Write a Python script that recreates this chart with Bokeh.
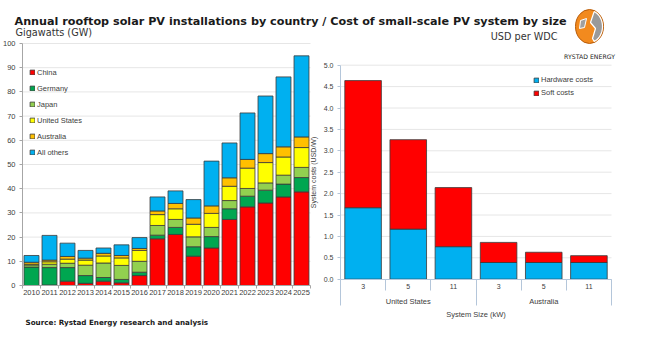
import numpy as np
from bokeh.plotting import figure
from bokeh.models import (Range1d, LinearAxis, FixedTicker, Label, Legend, LegendItem,
                          ColumnDataSource, PrintfTickFormatter)
from bokeh.embed import file_html
from bokeh.resources import INLINE

# ---------------- data ----------------
years = [str(y) for y in range(2010, 2026)]
china = [0.0, 0.2, 1.8, 0.9, 1.8, 1.1, 4.1, 19.3, 21.1, 12.1, 15.5, 27.3, 32.5, 34.1, 36.6, 38.7]
germany = [7.6, 7.2, 5.6, 3.2, 1.5, 1.4, 1.4, 1.5, 2.9, 3.9, 4.7, 4.4, 4.4, 5.3, 5.3, 5.9]
japan = [0.9, 1.4, 1.8, 4.3, 6.0, 5.8, 4.5, 4.0, 3.3, 4.1, 3.8, 3.4, 3.2, 3.0, 3.7, 4.2]
united_states = [0.3, 1.0, 1.7, 2.1, 2.9, 3.1, 4.5, 4.5, 4.4, 5.2, 5.8, 5.9, 8.4, 8.4, 7.5, 8.2]
australia = [0.8, 0.7, 1.1, 0.8, 1.1, 1.0, 0.8, 1.5, 2.2, 2.6, 3.1, 3.5, 3.6, 3.7, 4.2, 4.4]
all_others = [2.8, 10.2, 5.5, 3.2, 2.2, 4.4, 4.5, 5.8, 5.2, 7.6, 18.5, 14.4, 19.2, 23.8, 28.9, 33.5]
country_names = ["China", "Germany", "Japan", "United States", "Australia", "All others"]
country_colors = ["#ff0000", "#00a650", "#92d050", "#ffff00", "#ffc000", "#00b0f0"]
gw_ticks = list(range(0, 101, 10))

size_labels = ["3", "5", "11", "3", "5", "11"]
size_groups = ["United States", "Australia"]
hardware = [1.67, 1.17, 0.76, 0.39, 0.39, 0.39]
soft = [2.97, 2.09, 1.38, 0.47, 0.24, 0.16]
cost_names = ["Hardware costs", "Soft costs"]
cost_colors = ["#00b0f0", "#ff0000"]
cost_ticks = [i * 0.5 for i in range(11)]

FONT = "Liberation Sans"
TXT = "#404040"
AX_L = "#a6a6a6"
AX_R = "#b4c6da"
GRID = "#e6e6e6"
EDGE = "#3a3a3a"

W, H = 650, 343
p = figure(width=W, height=H, output_backend="svg", toolbar_location=None,
           x_range=Range1d(0, W), y_range=Range1d(H, 0),
           x_axis_type=None, y_axis_type=None, title=None, min_border=0)
p.outline_line_color = None
p.background_fill_color = "white"
p.border_fill_color = "white"

# left chart ranges: category -0.5 -> px 22, 18 px per category ; 0 GW -> px 285, 2.42 px/GW
lpx, lx0 = 18.0, 22.0
lpy, ly0 = 2.42, 285.0
lxs = -0.5 - lx0 / lpx
# right chart ranges
rpx, rx0 = 271.0 / 6, 340.0
rpy, ry0 = 42.8, 278.7
rxs = -0.5 - rx0 / rpx
p.extra_x_ranges = {"lx": Range1d(lxs, lxs + W / lpx), "rx": Range1d(rxs, rxs + W / rpx)}
p.extra_y_ranges = {"ly": Range1d(-(H - ly0) / lpy, ly0 / lpy), "ry": Range1d(-(H - ry0) / rpy, ry0 / rpy)}

# ---------- left chart ----------
nL = len(years)
p.segment(x0=-0.5, x1=nL - 0.5, y0=gw_ticks[1:], y1=gw_ticks[1:], color=GRID, line_width=1,
          x_range_name="lx", y_range_name="ly")
srcL = ColumnDataSource(dict(x=list(range(nL)), China=china, Germany=germany, Japan=japan,
                             US=united_states, Australia=australia, Others=all_others))
rL = p.vbar_stack(["China", "Germany", "Japan", "US", "Australia", "Others"], x="x", width=0.83,
                  color=country_colors, line_color=EDGE, line_width=0.8, source=srcL,
                  x_range_name="lx", y_range_name="ly")

yaxL = LinearAxis(x_range_name="lx", y_range_name="ly", fixed_location=-0.5, bounds=(0, 100),
                  ticker=FixedTicker(ticks=gw_ticks, minor_ticks=[]))
xaxL = LinearAxis(x_range_name="lx", y_range_name="ly", fixed_location=0, bounds=(-0.5, nL - 0.5),
                  ticker=FixedTicker(ticks=list(range(nL)), minor_ticks=[i - 0.5 for i in range(nL + 1)]),
                  major_label_overrides={i: years[i] for i in range(nL)})
for ax in (yaxL, xaxL):
    ax.axis_line_color = AX_L
    ax.major_tick_line_color = AX_L
    ax.minor_tick_line_color = AX_L
    ax.major_label_text_font = FONT
    ax.major_label_text_font_size = "7.5px"
    ax.major_label_text_color = TXT
    ax.major_tick_in = 0
    ax.minor_tick_in = 0
yaxL.major_tick_out = 3
yaxL.minor_tick_out = 0
yaxL.major_label_standoff = 4
xaxL.major_tick_out = 0
xaxL.minor_tick_out = 3
xaxL.major_label_standoff = 1
p.add_layout(yaxL, "left")
p.add_layout(xaxL, "below")

legL = Legend(items=[LegendItem(label=country_names[i], renderers=[rL[i]]) for i in range(6)],
              location=(29, 186), orientation="vertical", padding=0, margin=0,
              glyph_width=6, glyph_height=6, label_height=10, spacing=6, label_standoff=2,
              label_text_font=FONT, label_text_font_size="7.5px", label_text_color=TXT,
              border_line_color=None, background_fill_alpha=0)
p.add_layout(legL, "center")

# ---------- right chart ----------
nR = len(size_labels)
p.segment(x0=-0.5, x1=nR - 0.5, y0=cost_ticks[1:], y1=cost_ticks[1:], color=GRID, line_width=1,
          x_range_name="rx", y_range_name="ry")
srcR = ColumnDataSource(dict(x=list(range(nR)), hw=hardware, soft=soft))
rR = p.vbar_stack(["hw", "soft"], x="x", width=0.81, color=cost_colors, line_color=EDGE,
                  line_width=0.8, source=srcR, x_range_name="rx", y_range_name="ry")

yaxR = LinearAxis(x_range_name="rx", y_range_name="ry", fixed_location=-0.5, bounds=(0, 5),
                  ticker=FixedTicker(ticks=cost_ticks, minor_ticks=[]),
                  formatter=PrintfTickFormatter(format="%.1f"),
                  axis_label="System costs (USD/W)")
xaxR = LinearAxis(x_range_name="rx", y_range_name="ry", fixed_location=0, bounds=(-0.5, nR - 0.5),
                  ticker=FixedTicker(ticks=list(range(nR)), minor_ticks=[0.5, 1.5, 3.5, 4.5]),
                  major_label_overrides={i: size_labels[i] for i in range(nR)})
gaxR = LinearAxis(x_range_name="rx", y_range_name="ry", fixed_location=0, bounds=(-0.5, nR - 0.5),
                  ticker=FixedTicker(ticks=[1, 4], minor_ticks=[-0.5, 2.5, 5.5]),
                  major_label_overrides={1: size_groups[0], 4: size_groups[1]},
                  axis_label="System Size (kW)")
for ax in (yaxR, xaxR, gaxR):
    ax.axis_line_color = AX_R
    ax.major_tick_line_color = AX_R
    ax.minor_tick_line_color = AX_R
    ax.major_label_text_font = FONT
    ax.major_label_text_font_size = "7px"
    ax.major_label_text_color = TXT
    ax.axis_label_text_font = FONT
    ax.axis_label_text_font_size = "7px"
    ax.axis_label_text_font_style = "normal"
    ax.axis_label_text_color = TXT
    ax.major_tick_in = 0
    ax.minor_tick_in = 0
yaxR.major_tick_out = 3
yaxR.minor_tick_out = 0
yaxR.major_label_standoff = 4
yaxR.axis_label_standoff = 4
xaxR.major_tick_out = 0
xaxR.minor_tick_out = 11
xaxR.major_label_standoff = -6
gaxR.major_tick_out = 0
gaxR.minor_tick_out = 26
gaxR.major_label_standoff = -8
gaxR.axis_label_standoff = 0
gaxR.major_label_text_font_size = "7.5px"
gaxR.axis_label_text_font_size = "7.5px"
p.add_layout(yaxR, "left")
p.add_layout(xaxR, "below")
p.add_layout(gaxR, "below")

legR = Legend(items=[LegendItem(label=cost_names[i], renderers=[rR[i]]) for i in range(2)],
              location=(533, 246), orientation="vertical", padding=0, margin=0,
              glyph_width=6, glyph_height=6, label_height=9, spacing=4, label_standoff=2,
              label_text_font=FONT, label_text_font_size="7.5px", label_text_color=TXT,
              border_line_color=None, background_fill_alpha=0)
p.add_layout(legR, "center")

# ---------- header / footer texts ----------
p.add_layout(Label(x=14, y=20.7, text="Annual rooftop solar PV installations by country / Cost of small-scale PV system by size",
                   text_font="DejaVu Sans", text_font_style="bold", text_font_size="11.2px",
                   text_color="#1a1a1a", text_baseline="alphabetic"))
p.add_layout(Label(x=15, y=31.5, text="Gigawatts (GW)", text_font="DejaVu Sans",
                   text_font_size="9.7px", text_color="#333333", text_baseline="alphabetic"))
p.add_layout(Label(x=557, y=35.8, text="USD per WDC", text_font="DejaVu Sans",
                   text_font_size="9.7px", text_color="#333333", text_baseline="alphabetic",
                   text_align="right"))
p.add_layout(Label(x=25, y=321.5, text="Source: Rystad Energy research and analysis",
                   text_font="DejaVu Sans", text_font_style="bold", text_font_size="7.2px",
                   text_color="#1a1a1a", text_baseline="alphabetic"))

# logo
gx, gy = 589.0, 26.0
p.ellipse(x=gx, y=gy, width=28, height=34, fill_color="#f28a1e", line_color="#b85c0a", line_width=1)
t = np.linspace(-1.2, 1.2, 20)
rx_, ry_ = 13.0, 16.0
xs = list(gx + rx_ * np.cos(t)) + [gx + 3, gx + 6, gx + 1, gx + 4]
ys = list(gy + ry_ * np.sin(t)) + [gy + 12, gy + 2, gy - 4, gy - 13]
p.patch(xs, ys, fill_color="#9a9a9a", line_color="white", line_width=1.2)
p.patch([gx - 9, gx - 3, gx - 5, gx - 10], [gy - 6, gy - 8, gy + 1, gy + 2],
        fill_color="#a0a0a0", line_color="white", line_width=1)
p.add_layout(Label(x=gx, y=56, text="RYSTAD ENERGY", text_font="DejaVu Sans",
                   text_font_size="6.2px", text_color="#222222", text_align="center",
                   text_baseline="alphabetic"))

open("out.html", "w").write(file_html(p, INLINE))
